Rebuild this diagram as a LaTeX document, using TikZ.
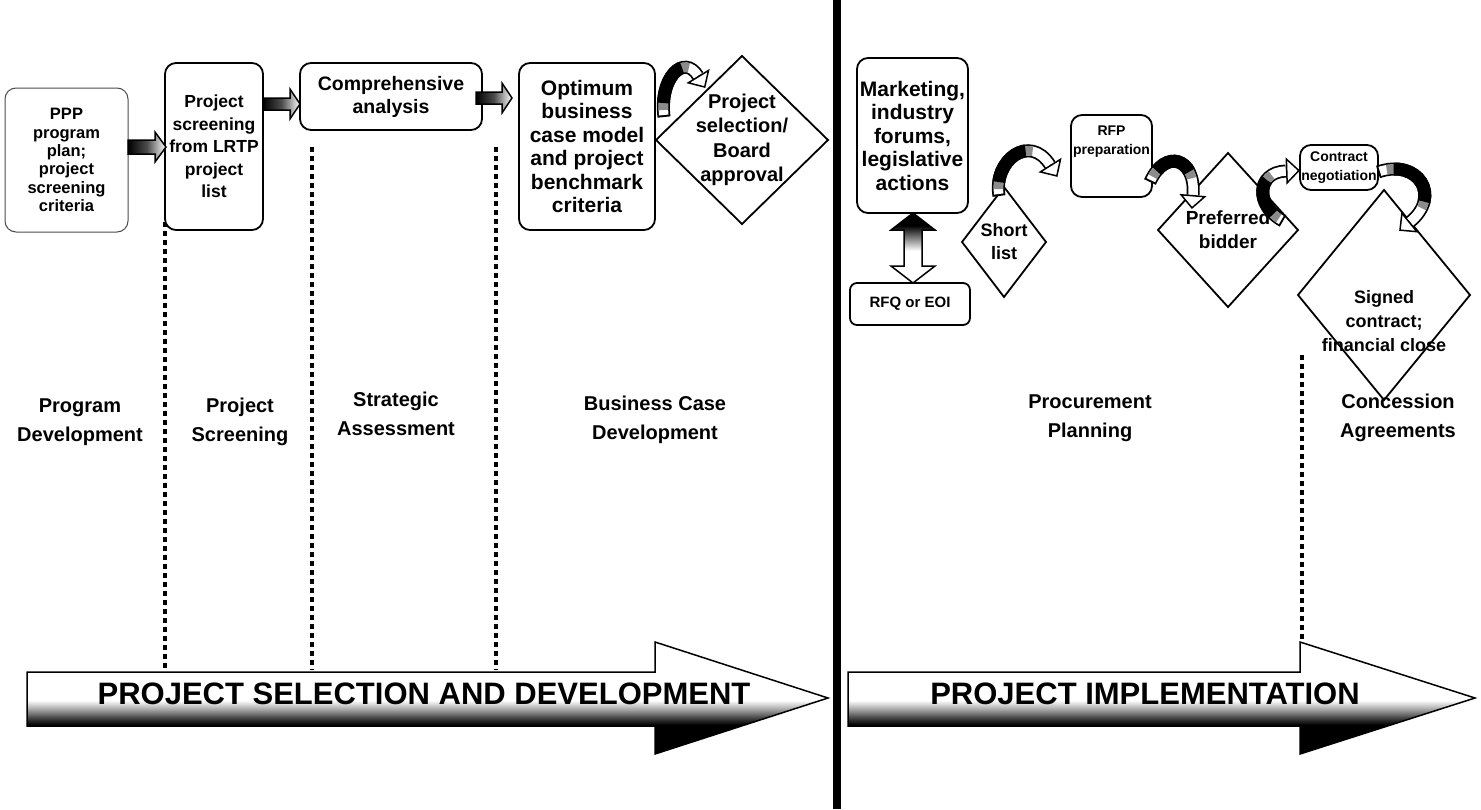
\documentclass[tikz,border=0pt]{standalone}
\usepackage{fontspec}
\setmainfont{Liberation Sans}
\usetikzlibrary{shapes.geometric,arrows.meta,calc}
\pgfdeclareverticalshading{bigarrowshade}{100bp}{color(0bp)=(black); color(38bp)=(black); color(41bp)=(black!75); color(45bp)=(black!35); color(49bp)=(white); color(100bp)=(white)}
\pgfdeclareverticalshading{dblshade}{100bp}{color(0bp)=(white); color(25bp)=(white); color(48bp)=(white); color(58bp)=(black!55); color(66bp)=(black); color(100bp)=(black)}
\newcommand{\fs}[2]{\fontsize{#1}{#2}\selectfont\bfseries}
% curved block arrow: start, control1, control2, end, black start, black length
\newcommand{\carrow}[6]{%
  \draw[line width=13pt] #1 .. controls #2 and #3 .. #4;
  \draw[line width=9.5pt, white, dash pattern=on 0pt off 2pt on 2000pt off 0pt] #1 .. controls #2 and #3 .. #4;
  \draw[line width=9.5pt, black!45, dash pattern=on 0pt off #5-7pt on #6+14pt off 2000pt] #1 .. controls #2 and #3 .. #4;
  \draw[line width=13pt, dash pattern=on 0pt off #5 on #6 off 2000pt] #1 .. controls #2 and #3 .. #4;
  \draw[line width=1.5pt, -{Triangle[width=27pt,length=14pt,fill=white]}] #4 -- ($#4!-14pt!#3$);
}
% horizontal block arrow: x0, x1, y, shaft half, head half, head length
\newcommand{\harr}[6]{%
  \draw[blk] (#1,#3-#4) -- (#2-#6,#3-#4) -- (#2-#6,#3-#5) -- (#2,#3) -- (#2-#6,#3+#5) -- (#2-#6,#3+#4) -- (#1,#3+#4) -- cycle;
}
\tikzset{
  rbox/.style={draw, line width=1.8pt, rounded corners=11pt, fill=white, inner sep=0pt, outer sep=0pt, align=center},
  dia/.style={draw, diamond, line width=1.8pt, fill=white, inner sep=0pt, outer sep=0pt},
  dtext/.style={align=center, inner sep=0pt},
  lbl/.style={align=center, inner sep=0pt, font=\fs{20}{29}},
  dotl/.style={line width=4.5pt, dash pattern=on 5pt off 4pt},
  blk/.style={draw, line width=1.5pt, left color=black, right color=white, middle color=black!70},
  bigtext/.style={inner sep=0pt, font=\fs{31}{31}},
}
\begin{document}
\begin{tikzpicture}[x=1pt,y=-1pt]
\useasboundingbox (0,0) rectangle (1481,809);
\fill[white] (0,0) rectangle (1481,809);

% dotted separators
\draw[dotl] (165,222) -- (165,670);
\draw[dotl] (312,147) -- (312,670);
\draw[dotl] (496,147) -- (496,670);
\draw[dotl] (1302,355) -- (1302,670);

% divider
\draw[line width=8pt] (837,0) -- (837,809);

% left boxes
\node[rbox, line width=1pt, draw=black!70, minimum width=123pt, minimum height=144pt, font=\fs{16.5}{18.4}] (b1) at (66.5,160) {PPP\\program\\plan;\\project\\screening\\criteria};
\node[rbox, minimum width=98pt, minimum height=167pt, font=\fs{17.5}{22.5}] (b2) at (214,146.5) {Project\\screening\\from LRTP\\project\\list};
\node[rbox, minimum width=182pt, minimum height=67pt, font=\fs{19.5}{23}] (b3) at (391,96.5) {Comprehensive\\analysis};
\node[rbox, minimum width=136pt, minimum height=167pt, font=\fs{21}{23.5}] (b4) at (587,146.5) {Optimum\\business\\case model\\and project\\benchmark\\criteria};
\node[dia, minimum width=172pt, minimum height=168pt] (d1) at (742,140) {};
\node[dtext, font=\fs{20}{24.5}] (d1t) at (d1.center) {Project\\selection/\\Board\\approval};

\harr{128}{166}{147}{7}{15}{11}
\harr{263}{300}{104}{6}{15}{10}
\harr{476}{512}{98}{6}{15}{10}

\carrow{(664,117)}{(659,78)}{(684,53)}{(698,76)}{14pt}{42pt}

% right boxes
\node[rbox, minimum width=111pt, minimum height=155pt, font=\fs{21}{23.5}] (mk) at (912.5,135.5) {Marketing,\\industry\\forums,\\legislative\\actions};
\node[rbox, rounded corners=7pt, minimum width=120pt, minimum height=42pt, font=\fs{15}{18}] (rfq) at (910,304) {RFQ or EOI};
\node[dia, minimum width=84pt, minimum height=110pt] (sl) at (1004,242) {};
\node[dtext, font=\fs{18}{23}] (slt) at (sl.center) {Short\\list};
\node[rbox, minimum width=81pt, minimum height=82pt, font=\fs{14}{19}] (rfp) at (1111.5,156) {RFP\\preparation\\[12pt]};
\node[dia, minimum width=140pt, minimum height=154pt] (pb) at (1228,230) {};
\node[dtext, font=\fs{19}{24}] (pbt) at (pb.center) {Preferred\\bidder};
\node[dia, minimum width=172pt, minimum height=210pt] (sc) at (1384,295) {};
\node[dtext, font=\fs{18}{24}] (sct) at (1384,321) {Signed\\contract;\\financial close};
\node[rbox, minimum width=78pt, minimum height=45pt, font=\fs{14}{19}] (cn) at (1339,167.5) {Contract\\negotiation};

% double arrow between marketing and RFQ
\shadedraw[line width=1.5pt, shading=dblshade]
  (913,213) -- (935,230) -- (922,230) -- (922,266) -- (935,266) -- (913,283) -- (891,266) -- (904,266) -- (904,230) -- (891,230) -- cycle;

\carrow{(999,196)}{(993,160)}{(1030,133)}{(1050,165)}{14pt}{44pt}
\carrow{(1150,182)}{(1165,148)}{(1196,158)}{(1193,195)}{13pt}{40pt}
\carrow{(1283,221)}{(1255,206)}{(1256,172)}{(1286,171)}{12pt}{38pt}
\carrow{(1378,172)}{(1418,158)}{(1442,196)}{(1410,222)}{16pt}{52pt}

% labels
\node[lbl] (l1) at (80,422) {Program\\Development};
\node[lbl] (l2) at (240,422) {Project\\Screening};
\node[lbl] (l3) at (396,414) {Strategic\\Assessment};
\node[lbl] (l4) at (655,420) {Business Case\\Development};
\node[lbl] (l5) at (1090,418) {Procurement\\Planning};
\node[lbl] (l6) at (1398,418) {Concession\\Agreements};

% big arrows
\shadedraw[shading=bigarrowshade, line width=1.5pt] (27,672) -- (655,672) -- (655,642) -- (828,698) -- (655,754) -- (655,726) -- (27,726) -- cycle;
\node[bigtext] (t1) at (424,694) {PROJECT SELECTION AND DEVELOPMENT};
\shadedraw[shading=bigarrowshade, line width=1.5pt] (848,672) -- (1300,672) -- (1300,642) -- (1475,698) -- (1300,754) -- (1300,726) -- (848,726) -- cycle;
\node[bigtext] (t2) at (1145,694) {PROJECT IMPLEMENTATION};
\end{tikzpicture}
\end{document}
